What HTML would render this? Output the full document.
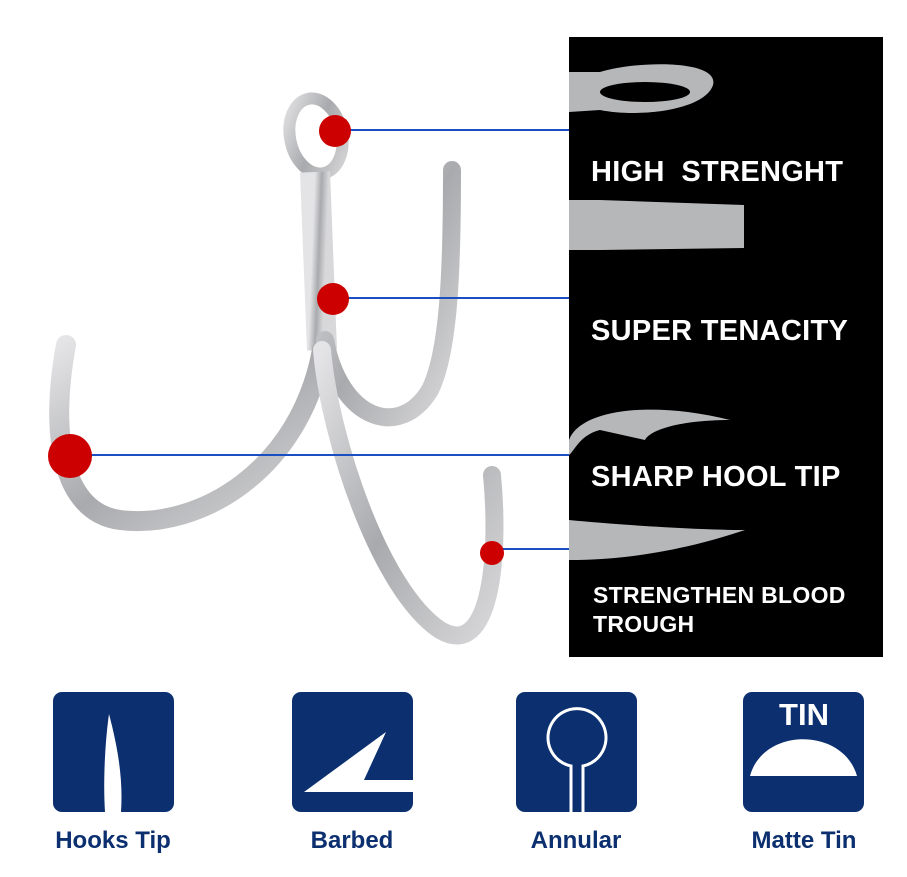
<!DOCTYPE html>
<html><head><meta charset="utf-8"><style>
html,body{margin:0;padding:0;background:#fff;}
body{width:907px;height:877px;position:relative;overflow:hidden;font-family:"Liberation Sans",Arial,sans-serif;}
.panel{position:absolute;left:569px;top:37px;width:314px;height:620px;background:#000;}
.pt{position:absolute;color:#fff;font-weight:bold;left:591px;font-size:29px;letter-spacing:0.3px;}
.box{position:absolute;top:692px;width:121px;height:120px;background:#0b2f6f;border-radius:9px;overflow:hidden;}
.lbl{position:absolute;top:827px;color:#0b2f6f;font-size:24px;font-weight:bold;text-align:center;width:200px;}
</style></head><body>
<div class="panel"></div>
<svg width="907" height="877" style="position:absolute;left:0;top:0">
<defs>
<linearGradient id="m" x1="0" y1="0" x2="1" y2="1"><stop offset="0" stop-color="#e4e4e6"/><stop offset="0.5" stop-color="#a9aaad"/><stop offset="1" stop-color="#d8d8da"/></linearGradient>
</defs>
<g fill="none" stroke="url(#m)" stroke-linecap="round">
<ellipse cx="316" cy="136" rx="26" ry="38" stroke-width="12" transform="rotate(-12 316 136)"/>
<path d="M315 172 L322 350" stroke-width="30" stroke-linecap="butt"/>
<path d="M322 350 C 300 470, 200 530, 120 520 C 60 512, 50 430, 66 345" stroke-width="20"/>
<path d="M325 340 C 340 420, 400 440, 430 390 C 450 350, 452 260, 452 170" stroke-width="18"/>
<path d="M322 350 C 330 440, 380 590, 440 630 C 490 660, 500 560, 492 475" stroke-width="18"/>
</g>
<g stroke="#1a4fc4" stroke-width="2">
<line x1="336" y1="130" x2="569" y2="130"/>
<line x1="333" y1="298" x2="569" y2="298"/>
<line x1="70" y1="455" x2="569" y2="455"/>
<line x1="492" y1="549" x2="569" y2="549"/>
</g>
<g fill="#cc0000">
<circle cx="335" cy="131" r="16"/>
<circle cx="333" cy="299" r="16"/>
<circle cx="70" cy="456" r="22"/>
<circle cx="492" cy="553" r="12"/>
</g>
<g fill="#b6b7b9">
<path d="M569 72 L600 72 C 640 60, 720 60, 713 85 C 705 110, 640 118, 600 110 L569 112 Z"/>
<path d="M569 200 L600 200 L744 205 L744 248 L600 250 L569 250 Z"/>
<path d="M569 440 C 580 410, 650 400, 730 420 C 680 420, 650 430, 645 440 L600 430 C 580 435, 575 450, 569 455 Z"/>
<path d="M569 520 C 620 525, 700 530, 745 530 C 700 545, 640 560, 569 560 Z"/>
</g>
<ellipse cx="645" cy="92" rx="45" ry="10" fill="#000"/>
</svg>
<div class="pt" style="top:156px">HIGH&nbsp; STRENGHT</div>
<div class="pt" style="top:315px">SUPER TENACITY</div>
<div class="pt" style="top:461px">SHARP HOOL TIP</div>
<div class="pt" style="top:581px;font-size:23px;line-height:29px;left:593px">STRENGTHEN BLOOD<br>TROUGH</div>

<div class="box" style="left:53px"><svg width="121" height="120"><path d="M56 22 C 66 60, 70 90, 68 120 L52 120 C 50 90, 52 50, 56 22 Z" fill="#fff"/></svg></div>
<div class="box" style="left:292px"><svg width="121" height="120"><path d="M94 40 L72 88 L121 88 L121 100 L12 100 Z" fill="#fff"/></svg></div>
<div class="box" style="left:516px"><svg width="121" height="120"><path d="M55 120 L55 74 A29 29 0 1 1 67 74 L67 120" fill="none" stroke="#fff" stroke-width="3"/></svg></div>
<div class="box" style="left:743px"><svg width="121" height="120"><text x="61" y="33" text-anchor="middle" fill="#fff" font-family="Liberation Sans,sans-serif" font-weight="bold" font-size="31">TIN</text><path d="M7 84 C 20 35, 100 35, 114 84 Z" fill="#fff"/></svg></div>
<div class="lbl" style="left:13px">Hooks Tip</div>
<div class="lbl" style="left:252px">Barbed</div>
<div class="lbl" style="left:476px">Annular</div>
<div class="lbl" style="left:704px">Matte Tin</div>
</body></html>
